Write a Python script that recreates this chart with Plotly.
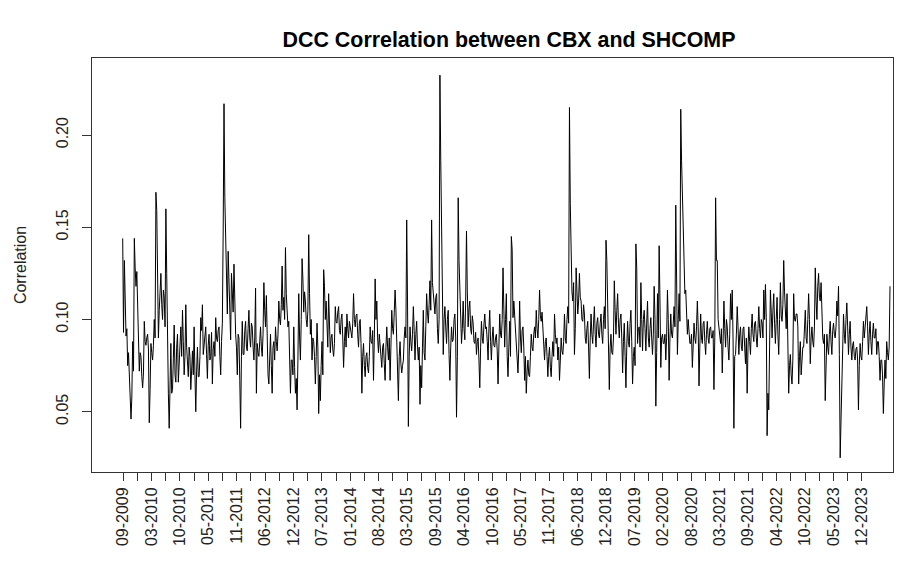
import plotly.graph_objects as go

title_text = "DCC Correlation between CBX and SHCOMP"
y_title = "Correlation"

# x tick labels (every other tick mark carries a label)
tick_labels = ["09-2009", "03-2010", "10-2010", "05-2011", "11-2011", "06-2012", "12-2012",
               "07-2013", "01-2014", "08-2014", "03-2015", "09-2015", "04-2016", "10-2016",
               "05-2017", "11-2017", "06-2018", "12-2018", "07-2019", "02-2020", "08-2020",
               "03-2021", "09-2021", "04-2022", "10-2022", "05-2023", "12-2023"]

y_ticks = [0.05, 0.10, 0.15, 0.20]
y_tick_text = ["0.05", "0.10", "0.15", "0.20"]

# DCC correlation series (in order)
corr_seg1 = [0.144, 0.093, 0.132, 0.114, 0.091, 0.095, 0.075, 0.082, 0.069, 0.060, 0.046, 0.058,
             0.088, 0.072, 0.144, 0.128, 0.118, 0.126, 0.109, 0.095, 0.072, 0.082, 0.080, 0.069,
             0.063, 0.071, 0.099, 0.088, 0.086, 0.090, 0.092, 0.084, 0.044, 0.062, 0.087, 0.082,
             0.078, 0.086, 0.100, 0.090, 0.169, 0.159, 0.124, 0.090, 0.105, 0.118, 0.125, 0.108,
             0.100, 0.116, 0.112, 0.096, 0.160, 0.125, 0.070, 0.060, 0.041, 0.079, 0.087, 0.060,
             0.062, 0.079, 0.097, 0.070, 0.066, 0.085, 0.092, 0.066, 0.080, 0.092, 0.096, 0.080,
             0.105, 0.088, 0.070, 0.080, 0.108, 0.085, 0.078, 0.069, 0.085, 0.080, 0.062, 0.078,
             0.083, 0.070, 0.096, 0.070, 0.050, 0.072, 0.085, 0.069, 0.069, 0.080, 0.101, 0.094,
             0.108, 0.081, 0.085, 0.090, 0.096, 0.081, 0.068, 0.086, 0.092, 0.078, 0.080, 0.093,
             0.065, 0.084, 0.088, 0.080]
corr_seg2 = [0.101, 0.090, 0.088, 0.094, 0.096, 0.080, 0.070, 0.088, 0.098, 0.148, 0.217, 0.166,
             0.140, 0.124, 0.103, 0.137, 0.117, 0.098, 0.089, 0.125, 0.114, 0.104, 0.130, 0.100,
             0.092, 0.085, 0.070, 0.092, 0.090, 0.067, 0.041, 0.080, 0.099, 0.081, 0.081, 0.094,
             0.099, 0.085, 0.083, 0.095, 0.105, 0.090, 0.085, 0.098, 0.096, 0.085, 0.078, 0.090,
             0.117, 0.060, 0.087, 0.082, 0.080, 0.088, 0.096, 0.085, 0.080, 0.092, 0.120, 0.105,
             0.096, 0.113, 0.083, 0.070, 0.065, 0.080, 0.092, 0.075, 0.060, 0.085, 0.088, 0.078,
             0.096, 0.088, 0.083, 0.092, 0.110, 0.100, 0.097, 0.108, 0.129, 0.105, 0.112, 0.100,
             0.139, 0.114, 0.100, 0.096, 0.099, 0.085, 0.060, 0.078, 0.078, 0.070, 0.096, 0.074,
             0.060, 0.068, 0.051, 0.078, 0.114, 0.090, 0.078, 0.100, 0.133, 0.122, 0.104, 0.115,
             0.110, 0.100, 0.096, 0.105, 0.146, 0.114]
corr_seg3 = [0.092, 0.100, 0.078, 0.090, 0.088, 0.080, 0.065, 0.080, 0.098, 0.085, 0.049, 0.070,
             0.056, 0.075, 0.088, 0.070, 0.127, 0.118, 0.100, 0.110, 0.098, 0.085, 0.114, 0.100,
             0.082, 0.090, 0.092, 0.084, 0.080, 0.087, 0.107, 0.099, 0.098, 0.104, 0.107, 0.094,
             0.092, 0.100, 0.103, 0.090, 0.074, 0.088, 0.096, 0.085, 0.103, 0.095, 0.090, 0.099,
             0.096, 0.092, 0.090, 0.098, 0.114, 0.100, 0.096, 0.102, 0.103, 0.092, 0.085, 0.098,
             0.100, 0.087, 0.060, 0.080, 0.087, 0.075, 0.069, 0.080, 0.082, 0.074, 0.071, 0.080,
             0.096, 0.088, 0.087, 0.094, 0.067, 0.090, 0.122, 0.100, 0.110, 0.090, 0.082, 0.092,
             0.087, 0.078, 0.074, 0.085, 0.087, 0.076, 0.067, 0.085, 0.096, 0.085, 0.078, 0.090,
             0.067, 0.085, 0.105, 0.095, 0.092, 0.104, 0.116, 0.105, 0.090, 0.075, 0.056, 0.080,
             0.088, 0.076, 0.071, 0.075, 0.078, 0.090]
corr_seg4 = [0.096, 0.090, 0.154, 0.110, 0.042, 0.080, 0.096, 0.088, 0.083, 0.092, 0.107, 0.094,
             0.078, 0.092, 0.099, 0.085, 0.078, 0.085, 0.054, 0.075, 0.063, 0.085, 0.105, 0.082,
             0.078, 0.096, 0.114, 0.104, 0.098, 0.108, 0.121, 0.105, 0.154, 0.120, 0.114, 0.106,
             0.103, 0.112, 0.114, 0.095, 0.087, 0.100, 0.2325, 0.186, 0.140, 0.110, 0.081, 0.100,
             0.107, 0.096, 0.087, 0.100, 0.105, 0.081, 0.067, 0.085, 0.096, 0.088, 0.089, 0.100,
             0.103, 0.090, 0.047, 0.080, 0.166, 0.132, 0.114, 0.098, 0.087, 0.095, 0.110, 0.095,
             0.089, 0.110, 0.148, 0.115, 0.096, 0.106, 0.110, 0.095, 0.092, 0.102, 0.098, 0.088,
             0.087, 0.093, 0.081, 0.088, 0.090, 0.078, 0.063, 0.085, 0.099, 0.090, 0.087, 0.097,
             0.103, 0.095, 0.096, 0.088, 0.078, 0.095, 0.105, 0.088, 0.078, 0.090, 0.096, 0.086,
             0.085, 0.090, 0.092, 0.083, 0.065, 0.085]
corr_seg5 = [0.103, 0.092, 0.090, 0.100, 0.128, 0.105, 0.085, 0.100, 0.114, 0.080, 0.069, 0.085,
             0.099, 0.080, 0.145, 0.138, 0.101, 0.110, 0.103, 0.092, 0.087, 0.080, 0.071, 0.085,
             0.110, 0.090, 0.082, 0.094, 0.096, 0.085, 0.067, 0.080, 0.060, 0.072, 0.078, 0.070,
             0.069, 0.080, 0.092, 0.085, 0.083, 0.092, 0.096, 0.090, 0.105, 0.095, 0.090, 0.100,
             0.116, 0.102, 0.099, 0.104, 0.096, 0.085, 0.078, 0.088, 0.090, 0.080, 0.069, 0.080,
             0.085, 0.074, 0.069, 0.080, 0.088, 0.080, 0.103, 0.092, 0.087, 0.090, 0.078, 0.085,
             0.067, 0.078, 0.090, 0.083, 0.081, 0.088, 0.103, 0.090, 0.087, 0.100, 0.107, 0.098,
             0.215, 0.163, 0.128, 0.115, 0.110, 0.120, 0.081, 0.095, 0.128, 0.114, 0.103, 0.110,
             0.125, 0.112, 0.110, 0.100, 0.099, 0.108, 0.103, 0.090, 0.087, 0.095, 0.099, 0.085,
             0.068, 0.090, 0.103, 0.092, 0.087, 0.098]
corr_seg6 = [0.107, 0.092, 0.085, 0.098, 0.101, 0.092, 0.090, 0.098, 0.103, 0.092, 0.087, 0.100,
             0.107, 0.095, 0.143, 0.132, 0.110, 0.100, 0.062, 0.085, 0.092, 0.082, 0.081, 0.090,
             0.121, 0.105, 0.092, 0.105, 0.114, 0.098, 0.090, 0.100, 0.103, 0.090, 0.071, 0.088,
             0.098, 0.080, 0.063, 0.085, 0.099, 0.088, 0.085, 0.098, 0.105, 0.088, 0.065, 0.080,
             0.085, 0.075, 0.141, 0.128, 0.087, 0.095, 0.096, 0.085, 0.120, 0.100, 0.083, 0.100,
             0.105, 0.095, 0.083, 0.098, 0.110, 0.090, 0.085, 0.095, 0.101, 0.090, 0.081, 0.092,
             0.118, 0.100, 0.053, 0.082, 0.114, 0.090, 0.140, 0.110, 0.074, 0.090, 0.092, 0.087,
             0.087, 0.092, 0.078, 0.090, 0.116, 0.100, 0.067, 0.090, 0.103, 0.092, 0.090, 0.098,
             0.107, 0.096, 0.162, 0.123, 0.081, 0.100, 0.114, 0.099, 0.214, 0.186, 0.168, 0.150,
             0.125, 0.114, 0.116, 0.100, 0.092, 0.100]
corr_seg7 = [0.092, 0.087, 0.087, 0.092, 0.074, 0.088, 0.098, 0.090, 0.087, 0.096, 0.110, 0.096,
             0.064, 0.085, 0.103, 0.090, 0.087, 0.098, 0.099, 0.088, 0.081, 0.092, 0.099, 0.090,
             0.087, 0.095, 0.096, 0.090, 0.090, 0.094, 0.062, 0.090, 0.166, 0.132, 0.132, 0.100,
             0.096, 0.090, 0.087, 0.095, 0.071, 0.088, 0.110, 0.095, 0.085, 0.100, 0.096, 0.085,
             0.078, 0.092, 0.114, 0.100, 0.116, 0.090, 0.041, 0.080, 0.081, 0.092, 0.107, 0.096,
             0.081, 0.092, 0.096, 0.085, 0.083, 0.095, 0.096, 0.085, 0.076, 0.090, 0.060, 0.085,
             0.096, 0.088, 0.081, 0.095, 0.103, 0.092, 0.088, 0.098, 0.099, 0.090, 0.085, 0.095,
             0.107, 0.095, 0.090, 0.100, 0.098, 0.090, 0.116, 0.100, 0.119, 0.101, 0.037, 0.060,
             0.051, 0.085, 0.116, 0.104, 0.090, 0.105, 0.114, 0.098, 0.087, 0.100, 0.112, 0.092,
             0.081, 0.100, 0.120, 0.102, 0.099, 0.108]
corr_seg8 = [0.132, 0.115, 0.105, 0.095, 0.114, 0.088, 0.060, 0.075, 0.081, 0.070, 0.065, 0.078,
             0.114, 0.100, 0.099, 0.103, 0.103, 0.096, 0.065, 0.080, 0.088, 0.070, 0.078, 0.085,
             0.085, 0.095, 0.105, 0.090, 0.087, 0.100, 0.114, 0.100, 0.076, 0.090, 0.096, 0.088,
             0.085, 0.096, 0.128, 0.110, 0.100, 0.118, 0.125, 0.112, 0.110, 0.120, 0.096, 0.090,
             0.087, 0.092, 0.056, 0.080, 0.092, 0.085, 0.081, 0.092, 0.099, 0.088, 0.081, 0.094,
             0.098, 0.092, 0.090, 0.096, 0.110, 0.102, 0.118, 0.081, 0.025, 0.045, 0.060, 0.078,
             0.103, 0.092, 0.087, 0.100, 0.109, 0.096, 0.081, 0.092, 0.099, 0.085, 0.078, 0.086,
             0.088, 0.080, 0.078, 0.084, 0.085, 0.078, 0.051, 0.075, 0.087, 0.080, 0.078, 0.088,
             0.099, 0.090, 0.096, 0.102, 0.107, 0.096, 0.081, 0.092, 0.099, 0.088, 0.081, 0.092,
             0.098, 0.090, 0.090, 0.095, 0.081, 0.088, 0.088, 0.080, 0.067, 0.078, 0.078, 0.070,
             0.049, 0.065, 0.078, 0.068, 0.088, 0.082, 0.078, 0.085, 0.118]

corr = (corr_seg1 + corr_seg2 + corr_seg3 + corr_seg4 +
        corr_seg5 + corr_seg6 + corr_seg7 + corr_seg8)
obs = list(range(len(corr)))

# axis layout: tick marks every 17.112 observations, label on every second tick
tick_step = 17.112
tick_offset = 0.36
n_ticks = 2 * (len(tick_labels) - 1) + 1
tick_vals = [tick_offset + k * tick_step for k in range(n_ticks)]
tick_text = [tick_labels[k // 2] if k % 2 == 0 else "" for k in range(n_ticks)]

FONT = "Liberation Sans, Arial, sans-serif"
AX = "#333333"

# the page body adds an 8px margin, so the figure is sized to fit inside the window
W, H = 906, 556

fig = go.Figure()
fig.add_trace(go.Scatter(x=obs, y=corr, mode="lines",
                         line=dict(color="black", width=1), hoverinfo="skip"))

fig.update_layout(
    width=W, height=H,
    margin=dict(l=84, r=21, t=50, b=92),
    paper_bgcolor="white", plot_bgcolor="white",
    showlegend=False,
    font=dict(family=FONT, size=16, color="black"),
    title=dict(text="<b>" + title_text + "</b>", x=501 / W, xanchor="center",
               y=1 - 32 / H, yanchor="middle", xref="container", yref="container",
               font=dict(family=FONT, size=21.4, color="black")),
)
fig.update_xaxes(
    range=[-36.97, 927.61], showgrid=False, zeroline=False, automargin=False,
    showline=True, mirror=True, linecolor=AX, linewidth=1,
    ticks="outside", ticklen=8, tickcolor=AX, tickwidth=1,
    tickmode="array", tickvals=tick_vals, ticktext=tick_text, tickangle=-90,
    tickfont=dict(family=FONT, size=16, color="#222222"),
)
fig.update_yaxes(
    range=[0.0173, 0.2418], showgrid=False, zeroline=False, automargin=False,
    showline=True, mirror=True, linecolor=AX, linewidth=1,
    ticks="outside", ticklen=9, tickcolor=AX, tickwidth=1,
    tickmode="array", tickvals=y_ticks, ticktext=y_tick_text, tickangle=-90,
    ticklabelstandoff=8,
    tickfont=dict(family=FONT, size=16, color="#222222"),
    title=dict(text=y_title, font=dict(family=FONT, size=16, color="#222222"), standoff=22),
)

fig.write_html("out.html")
